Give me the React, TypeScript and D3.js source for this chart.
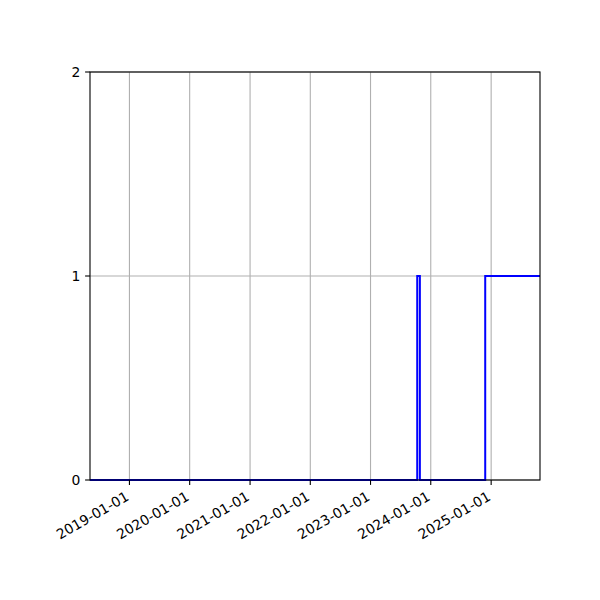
import React, {useEffect, useRef} from "react";
import * as d3 from "d3";

// step series (value holds until next date)
const dates = ["2018-05-07", "2023-10-11", "2023-10-27", "2024-11-26", "2025-10-24"];
const values = [0, 1, 0, 1, 1];
const xDomain = ["2018-05-07", "2025-10-24"];
const xTickYears = [2019, 2020, 2021, 2022, 2023, 2024, 2025];
const yTicks = [0, 1, 2];

const App: React.FC = () => {
    const svgRef = useRef<SVGSVGElement | null>(null);

    useEffect(() => {
        if (!svgRef.current) return;
        const svg = d3.select(svgRef.current);
        svg.selectAll("*").remove();

        const margin = {top: 72, right: 60, bottom: 120, left: 90};
        const width = 600 - margin.left - margin.right;
        const height = 600 - margin.top - margin.bottom;
        const parse = d3.utcParse("%Y-%m-%d");
        const fmt = d3.utcFormat("%Y-%m-%d");
        const font = "'DejaVu Sans', sans-serif";

        const root = svg.append("g").attr("transform", `translate(${margin.left},${margin.top})`);

        const x = d3.scaleUtc()
            .domain(xDomain.map(d => parse(d) as Date))
            .range([0, width]);
        const y = d3.scaleLinear().domain([0, 2]).range([height, 0]);

        const xTicks = xTickYears.map(yr => new Date(Date.UTC(yr, 0, 1)));

        // grid
        root.append("g").selectAll("line").data(xTicks).enter().append("line")
            .attr("x1", d => x(d)).attr("x2", d => x(d))
            .attr("y1", 0).attr("y2", height)
            .attr("stroke", "#b0b0b0").attr("stroke-width", 1.1);
        root.append("g").selectAll("line").data(yTicks).enter().append("line")
            .attr("x1", 0).attr("x2", width)
            .attr("y1", d => y(d)).attr("y2", d => y(d))
            .attr("stroke", "#b0b0b0").attr("stroke-width", 1.1);

        // step line
        const pts = dates.map((d, i) => [parse(d) as Date, values[i]] as [Date, number]);
        const line = d3.line<[Date, number]>()
            .x(d => x(d[0])).y(d => y(d[1]))
            .curve(d3.curveStepAfter);
        root.append("path").datum(pts)
            .attr("d", line)
            .attr("fill", "none")
            .attr("stroke", "#0000ff")
            .attr("stroke-width", 2);

        // spines
        root.append("rect")
            .attr("x", 0).attr("y", 0).attr("width", width).attr("height", height)
            .attr("fill", "none").attr("stroke", "black").attr("stroke-width", 1.1);

        // x ticks
        const xt = root.append("g").selectAll("g").data(xTicks).enter().append("g")
            .attr("transform", d => `translate(${x(d)},${height})`);
        xt.append("line").attr("y2", 4.9).attr("stroke", "black").attr("stroke-width", 1.1);
        xt.append("text")
            .attr("transform", "translate(-5,10) rotate(-30)")
            .attr("text-anchor", "end")
            .attr("dy", "0.78em")
            .style("font-family", font)
            .style("font-size", "13.9px")
            .text(d => fmt(d));

        // y ticks
        const yt = root.append("g").selectAll("g").data(yTicks).enter().append("g")
            .attr("transform", d => `translate(0,${y(d)})`);
        yt.append("line").attr("x2", -4.9).attr("stroke", "black").attr("stroke-width", 1.1);
        yt.append("text")
            .attr("x", -9.7)
            .attr("dy", "0.35em")
            .attr("text-anchor", "end")
            .style("font-family", font)
            .style("font-size", "13.9px")
            .text(d => String(d));
    }, []);

    return (
        <svg ref={svgRef} width={600} height={600} style={{display: "block", margin: "-8px", background: "white"}}/>
    );
};

export default App;
